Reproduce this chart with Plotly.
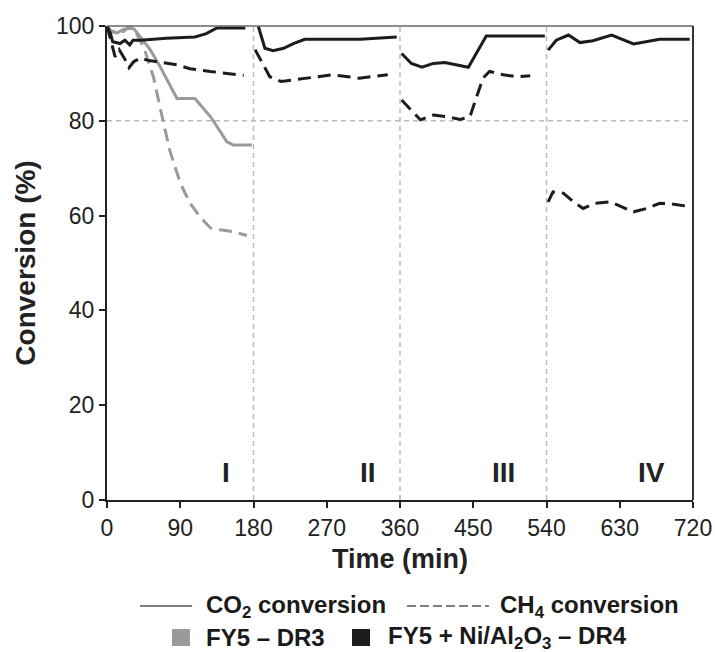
import plotly.graph_objects as go

# ---------------- data ----------------
# FY5 - DR3 (grey)
t_co2_dr3 = [0, 5, 12, 20, 28, 33, 42, 53, 65, 76, 86, 108, 127, 140, 147, 155, 178]
co2_dr3 = [100, 99, 98.5, 99.3, 99.5, 99.4, 97.5, 95, 91.5, 88, 84.7, 84.7, 80.9, 77.5, 75.6, 74.9, 74.9]

t_ch4_dr3 = [0, 5, 12, 20, 28, 35, 45, 57, 65, 77, 90, 102, 114, 127, 139, 155, 172]
ch4_dr3 = [100, 98.5, 99.2, 98.8, 100, 98.8, 95.6, 89.3, 83, 73.8, 66.9, 62.6, 59.8, 57.4, 57, 56.6, 55.8]

# FY5 + Ni/Al2O3 - DR4 (black), None separates the four stages
t_co2_dr4 = [0, 4, 7, 12, 16, 22, 28, 32, 41, 73, 108, 122, 135, 170, None,
             186, 194, 204, 217, 229, 243, 311, 356, None,
             362, 374, 387, 401, 415, 430, 444, 466, 538, None,
             542, 552, 567, 581, 597, 620, 647, 679, 716]
co2_dr4 = [100, 98.5, 96.7, 96.5, 96.3, 97, 96, 97, 97, 97.4, 97.7, 98.4, 99.6, 99.6, None,
           99.9, 95.3, 94.8, 95.3, 96.3, 97.2, 97.2, 97.7, None,
           94.2, 92.1, 91.3, 92.1, 92.3, 91.8, 91.3, 97.9, 97.9, None,
           94.9, 97, 98.1, 96.5, 96.9, 98.1, 96.2, 97.2, 97.2]

t_ch4_dr4 = [0, 6, 10, 15, 22, 27, 33, 42, 49, 86, 102, 127, 168, None,
             182, 192, 200, 214, 245, 277, 310, 345, None,
             362, 374, 385, 401, 417, 434, 446, 454, 462, 470, 487, 503, 520, None,
             542, 548, 561, 573, 585, 600, 618, 630, 647, 663, 679, 692, 716]
ch4_dr4 = [100, 96, 93.5, 95, 93, 91.2, 92.5, 93.3, 92.8, 91.8, 91, 90.4, 89.6, None,
           95, 91.8, 89.3, 88.3, 89, 89.7, 89, 89.7, None,
           84.4, 82.3, 80.2, 81.2, 80.9, 80.3, 80.9, 85, 89, 90.4, 89.7, 89.3, 89.5, None,
           62.9, 65, 64.7, 62.9, 61.5, 62.6, 62.9, 62, 60.8, 61.5, 62.6, 62.5, 61.9]

stage_bounds = [180, 360, 540]
stage_labels = ["I", "II", "III", "IV"]
stage_label_x = [146, 321, 487, 669]
x_ticks = [0, 90, 180, 270, 360, 450, 540, 630, 720]
y_ticks = [0, 20, 40, 60, 80, 100]

GREY = "#9a9a9a"
BLACK = "#1c1c1c"
FONT = "Liberation Sans, Arial, sans-serif"
DASH = "13px,7px"

fig = go.Figure()
fig.add_trace(go.Scatter(x=t_co2_dr3, y=co2_dr3, mode="lines",
                         line=dict(color=GREY, width=3), showlegend=False))
fig.add_trace(go.Scatter(x=t_ch4_dr3, y=ch4_dr3, mode="lines",
                         line=dict(color=GREY, width=3, dash=DASH), showlegend=False))
fig.add_trace(go.Scatter(x=t_co2_dr4, y=co2_dr4, mode="lines", connectgaps=False,
                         line=dict(color=BLACK, width=3), showlegend=False))
fig.add_trace(go.Scatter(x=t_ch4_dr4, y=ch4_dr4, mode="lines", connectgaps=False,
                         line=dict(color=BLACK, width=3, dash=DASH), showlegend=False))

# dashed reference lines
for b in stage_bounds:
    fig.add_vline(x=b, line=dict(color="#bbbbbb", width=1.5, dash="5px,4px"), layer="below")
fig.add_hline(y=80, line=dict(color="#bbbbbb", width=1.5, dash="5px,4px"), layer="below")

# top / right frame
fig.add_shape(type="line", xref="paper", yref="paper", x0=0, x1=1, y0=1, y1=1,
              line=dict(color="#666666", width=1.5))
fig.add_shape(type="line", xref="paper", yref="paper", x0=1, x1=1, y0=0, y1=1,
              line=dict(color="#333333", width=2))

# stage labels
for lab, lx in zip(stage_labels, stage_label_x):
    fig.add_annotation(x=lx, y=5.7, text="<b>%s</b>" % lab, showarrow=False,
                       font=dict(family=FONT, size=28, color="#222222"))

# legend drawn manually (paper coordinates)
def px_x(p):
    return (p - 107) / 586.0

def px_y(p):
    return (500 - p) / 474.0

r1 = px_y(606)
r2 = px_y(637)
fig.add_shape(type="line", xref="paper", yref="paper", x0=px_x(140), x1=px_x(192), y0=r1, y1=r1,
              line=dict(color="#555555", width=1.5))
fig.add_shape(type="line", xref="paper", yref="paper", x0=px_x(407), x1=px_x(489), y0=r1, y1=r1,
              line=dict(color="#555555", width=1.5, dash="9px,4px"))
fig.add_shape(type="rect", xref="paper", yref="paper", x0=px_x(172), x1=px_x(190),
              y0=px_y(646), y1=px_y(629), fillcolor=GREY, line=dict(width=0))
fig.add_shape(type="rect", xref="paper", yref="paper", x0=px_x(352), x1=px_x(370),
              y0=px_y(646), y1=px_y(629), fillcolor=BLACK, line=dict(width=0))

leg_font = dict(family=FONT, size=24, color="#1a1a1a")
for txt, xx, yy in [("<b>CO<sub>2</sub> conversion</b>", 204, r1),
                    ("<b>CH<sub>4</sub> conversion</b>", 498, r1),
                    ("<b>FY5 – DR3</b>", 204, r2),
                    ("<b>FY5 + Ni/Al<sub>2</sub>O<sub>3</sub> – DR4</b>", 386, r2)]:
    fig.add_annotation(xref="paper", yref="paper", x=px_x(xx), y=yy, text=txt,
                       showarrow=False, xanchor="left", yanchor="middle", font=leg_font)

fig.update_layout(
    width=715, height=652,
    margin=dict(l=107, r=22, t=26, b=152, autoexpand=False),
    paper_bgcolor="white", plot_bgcolor="white",
    font=dict(family=FONT, size=23, color="#222222"),
    showlegend=False,
)
fig.update_xaxes(range=[0, 720], tickvals=x_ticks, ticks="outside", ticklen=6, tickwidth=1.5,
                 tickcolor="#222222", showline=True, linecolor="#222222", linewidth=2,
                 showgrid=False, zeroline=False, automargin=False,
                 title=dict(text="<b>Time (min)</b>", font=dict(size=27), standoff=10),
                 tickfont=dict(size=23))
fig.update_yaxes(range=[0, 100], tickvals=y_ticks, ticks="outside", ticklen=6, tickwidth=1.5,
                 tickcolor="#222222", showline=True, linecolor="#222222", linewidth=2,
                 showgrid=False, zeroline=False, automargin=False,
                 title=dict(text="<b>Conversion (%)</b>", font=dict(size=28), standoff=12),
                 tickfont=dict(size=23))

fig.write_html("out.html", config={"displayModeBar": False},
               post_script="document.body.style.margin='0';")
